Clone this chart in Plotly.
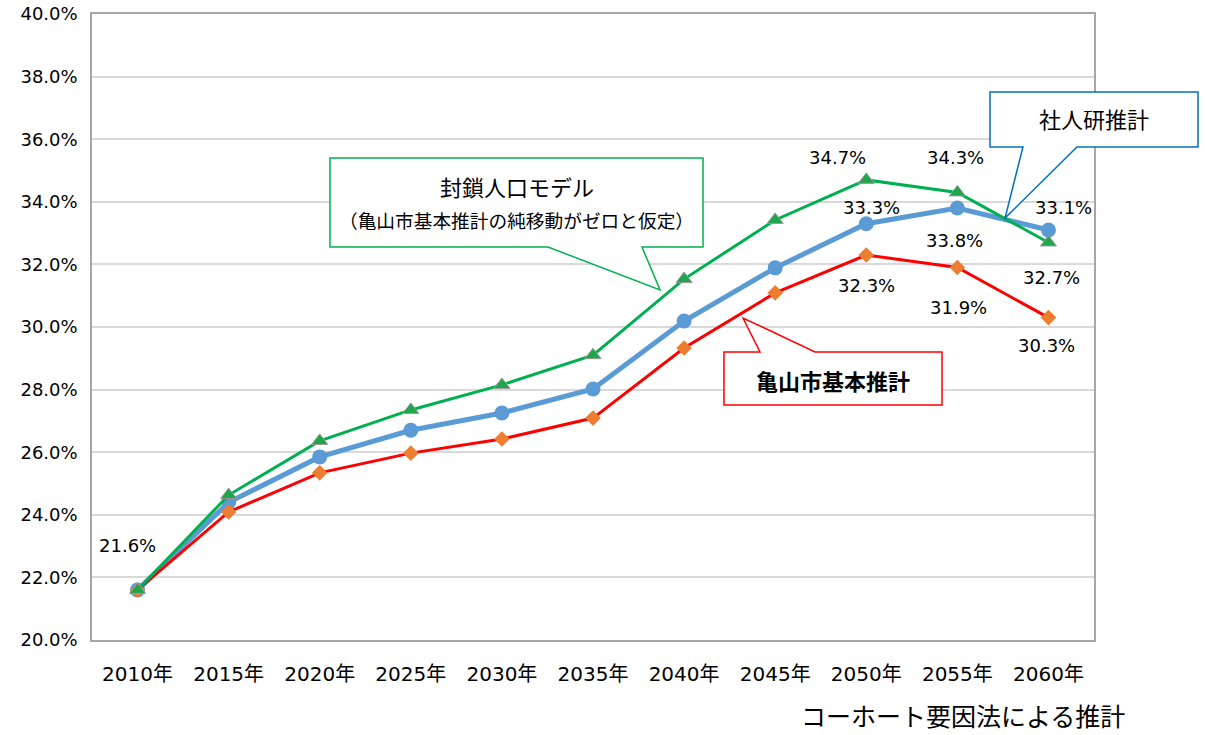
import plotly.graph_objects as go

# Projection years and aging-rate series (%)
years = ["2010年", "2015年", "2020年", "2025年", "2030年", "2035年",
         "2040年", "2045年", "2050年", "2055年", "2060年"]
ipss = [21.6, 24.4, 25.85, 26.7, 27.25, 28.02, 30.19, 31.89, 33.3, 33.8, 33.1]
closed_model = [21.6, 24.63, 26.36, 27.35, 28.15, 29.1, 31.53, 33.42, 34.7, 34.3, 32.7]
city_base = [21.6, 24.09, 25.34, 25.97, 26.42, 27.09, 29.33, 31.09, 32.3, 31.9, 30.3]

y_ticks = [20, 22, 24, 26, 28, 30, 32, 34, 36, 38, 40]
y_ticktext = [f"{v:.1f}%" for v in y_ticks]

idx = list(range(len(years)))

FONT = "'DejaVu Sans', 'Noto Sans CJK JP', sans-serif"
JP = "'Noto Sans CJK JP', sans-serif"

W, H = 1205, 735
ML, MR, MT, MB = 92, 111, 14, 95
PW, PH = W - ML - MR, H - MT - MB

fig = go.Figure()

fig.add_trace(go.Scatter(
    x=idx, y=ipss, mode="lines+markers", name="社人研推計",
    line=dict(color="#5B9BD5", width=5),
    marker=dict(symbol="circle", size=15, color="#5B9BD5"),
))
fig.add_trace(go.Scatter(
    x=idx, y=city_base, mode="lines+markers", name="亀山市基本推計",
    line=dict(color="#FF0000", width=3),
    marker=dict(symbol="diamond", size=12, color="#ED7D31"),
))
fig.add_trace(go.Scatter(
    x=idx, y=closed_model, mode="lines+markers", name="封鎖人口モデル",
    line=dict(color="#00B050", width=3),
    marker=dict(symbol="triangle-up", size=14, color="#1FA54A",
                line=dict(color="#999999", width=1)),
))

# Data labels: (series, index, x shift px, y shift px)
labels = [
    (ipss, 0, -10, 44),
    (closed_model, 8, -29, 22),
    (closed_model, 9, -2, 35),
    (ipss, 8, 5, 16),
    (ipss, 9, -3, -32),
    (ipss, 10, 15, 22),
    (closed_model, 10, 3, -35),
    (city_base, 8, 0, -30),
    (city_base, 9, 1, -40),
    (city_base, 10, -2, -28),
]
for series, i, dx, dy in labels:
    fig.add_annotation(
        x=i, y=series[i], text=f"{series[i]:.1f}%", showarrow=False,
        xshift=dx, yshift=dy, font=dict(family=FONT, size=18, color="#000000"),
    )

# Pixel -> paper helpers for the callout outlines
def px_x(p):
    return (p - ML) / PW

def px_y(p):
    return (MT + PH - p) / PH

def path(points):
    pts = [f"{px_x(a):.4f},{px_y(b):.4f}" for a, b in points]
    return "M " + " L ".join(pts) + " Z"

def callout_text(x, y, text, size, bold=False):
    fig.add_annotation(xref="paper", yref="paper", x=px_x(x), y=px_y(y),
                       text=f"<b>{text}</b>" if bold else text, showarrow=False,
                       xanchor="center", yanchor="middle",
                       font=dict(family=JP, size=size, color="#000000"))

# Green callout (closed population model)
fig.add_shape(type="path", xref="paper", yref="paper", layer="above",
              path=path([(330, 158), (703, 158), (703, 247), (642, 247),
                         (660, 290), (548, 247), (330, 247)]),
              fillcolor="white", line=dict(color="#00B050", width=1.5))
callout_text(517, 186, "封鎖人口モデル", 22)
callout_text(516, 220, "（亀山市基本推計の純移動がゼロと仮定）", 18.7)

# Blue callout (IPSS projection)
fig.add_shape(type="path", xref="paper", yref="paper", layer="above",
              path=path([(990, 92), (1198, 92), (1198, 147), (1077, 147),
                         (1005, 218), (1023, 147), (990, 147)]),
              fillcolor="white", line=dict(color="#0070C0", width=1.5))
callout_text(1094, 118, "社人研推計", 22)

# Red callout (city baseline projection)
fig.add_shape(type="path", xref="paper", yref="paper", layer="above",
              path=path([(724, 352), (760, 352), (743, 318), (815, 352),
                         (942, 352), (942, 405), (724, 405)]),
              fillcolor="white", line=dict(color="#FF0000", width=1.5))
callout_text(833, 380, "亀山市基本推計", 22, bold=True)

# Method note under the chart
fig.add_annotation(xref="paper", yref="paper", x=px_x(1126), y=px_y(715),
                   xanchor="right", yanchor="middle",
                   text="コーホート要因法による推計", showarrow=False,
                   font=dict(family=JP, size=25, color="#000000"),
                   borderpad=0)

fig.update_layout(
    width=W, height=H,
    margin=dict(l=ML, r=MR, t=MT, b=MB, autoexpand=False),
    paper_bgcolor="white", plot_bgcolor="white",
    showlegend=False,
    font=dict(family=FONT, color="#000000"),
)
fig.update_xaxes(
    range=[-0.5, 10.5], tickmode="array", tickvals=idx, ticktext=years,
    showgrid=False, zeroline=False, automargin=False,
    showline=True, linecolor="#A6A6A6", linewidth=1.5, mirror=True,
    ticks="", tickfont=dict(family=FONT, size=20, color="#000000"),
    ticklabelstandoff=15,
)
fig.update_yaxes(
    range=[20, 40], tickmode="array", tickvals=y_ticks, ticktext=y_ticktext,
    showgrid=True, gridcolor="#D9D9D9", gridwidth=1.5, zeroline=False,
    automargin=False,
    showline=True, linecolor="#A6A6A6", linewidth=1.5, mirror=True,
    ticks="", tickfont=dict(family=FONT, size=18, color="#000000"),
    ticklabelstandoff=9,
)

fig.write_html("out.html")
